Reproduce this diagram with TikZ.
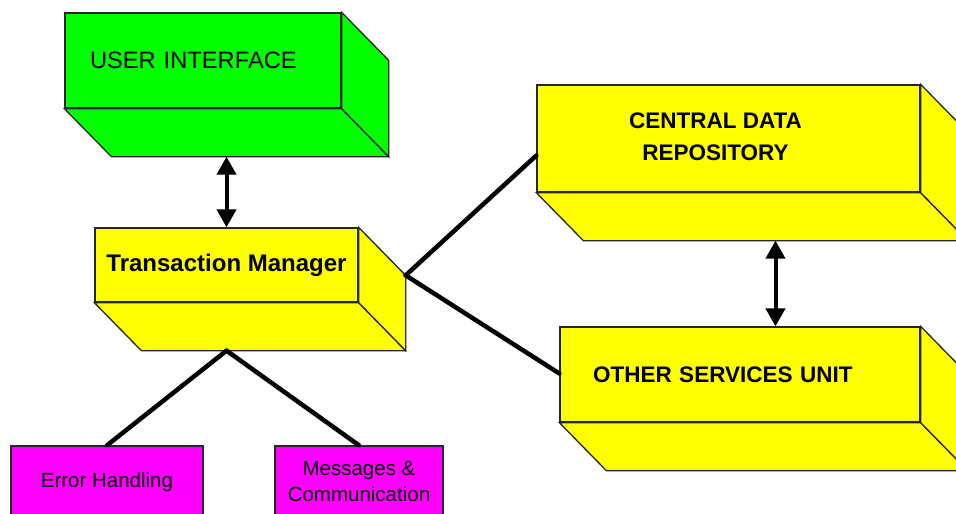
\documentclass[tikz,border=0pt]{standalone}
\usepackage{fontspec}
\setmainfont{Liberation Sans}
\usepackage{tikz}
\usetikzlibrary{arrows.meta, calc}

\definecolor{uigreen}{RGB}{0,255,0}
\definecolor{unityellow}{RGB}{255,255,0}
\definecolor{submagenta}{RGB}{255,0,255}

\tikzstyle{edge3d} = [draw=black!85, line width=1.3pt]
\tikzstyle{frontface} = [rectangle, edge3d, inner sep=0pt, text centered]
\tikzstyle{uibox} = [frontface, fill=uigreen, font=\fontsize{23.7}{28}\selectfont]
\tikzstyle{unitbox} = [frontface, fill=unityellow, font=\fontsize{22.5}{32}\selectfont\bfseries]
\tikzstyle{subbox} = [rectangle, edge3d, fill=submagenta, text centered, font=\fontsize{20.5}{26}\selectfont]
\tikzstyle{arrow} = [line width=4pt, {Triangle[length=18pt,width=19pt]}-{Triangle[length=18pt,width=19pt]}]
\tikzstyle{link} = [line width=4.5pt, line cap=round]

% bottom and right faces behind a front face
\newcommand{\extrude}[2]{%
  \coordinate (#1 bsw) at ($(#1.south west)+(47,48)$);
  \coordinate (#1 bse) at ($(#1.south east)+(47,48)$);
  \coordinate (#1 bne) at ($(#1.north east)+(47,48)$);
  \coordinate (#1 bs) at ($(#1.south)+(47,48)$);
  \filldraw[edge3d, fill=#2] (#1.south west) -- (#1 bsw) -- (#1 bse) -- (#1.south east) -- cycle;
  \filldraw[edge3d, fill=#2] (#1.north east) -- (#1 bne) -- (#1 bse) -- (#1.south east) -- cycle;
}

\begin{document}
\begin{tikzpicture}[x=1pt, y=-1pt]
\useasboundingbox (0,0) rectangle (956,514);
\fill[white] (0,0) rectangle (956,514);
\clip (0,0) rectangle (956,514);

% Nodes
\node (ui) [uibox, minimum width=276pt, minimum height=95pt, text width=226pt, align=left, inner xsep=25pt] at (203,60.5) {USER INTERFACE};
\node (tm) [unitbox, minimum width=263pt, minimum height=74pt, font=\fontsize{24}{28}\selectfont\bfseries] at (226.5,265) {Transaction Manager};
\node (cdr) [unitbox, minimum width=383pt, minimum height=107pt] at (728.5,138.5) {\begin{tabular}{@{}c@{}}CENTRAL DATA\\REPOSITORY\end{tabular}\hspace*{26pt}};
\node (osu) [unitbox, minimum width=360pt, minimum height=95pt, text width=294pt, align=left, inner xsep=33pt] at (740,374.5) {OTHER SERVICES UNIT};
\node (err) [subbox, minimum width=192pt, minimum height=72pt] at (107,482) {Error Handling};
\node (msg) [subbox, minimum width=168pt, minimum height=72pt, align=center] at (359,482) {Messages \&\\Communication};

\extrude{ui}{uigreen}
\extrude{tm}{unityellow}
\extrude{cdr}{unityellow}
\extrude{osu}{unityellow}

% Arrows
\draw [arrow] (tm.north) -- (tm.north |- ui bs);
\draw [arrow] (cdr bs) -- (cdr bs |- osu.north);
\draw [link] (tm bne) -- ([yshift=-17pt]cdr.west);
\draw [link] (tm bne) -- ([yshift=1pt]osu.west);
\draw [link] (tm.south |- tm bs) -- (err.north);
\draw [link] (tm.south |- tm bs) -- (msg.north);

\end{tikzpicture}
\end{document}
